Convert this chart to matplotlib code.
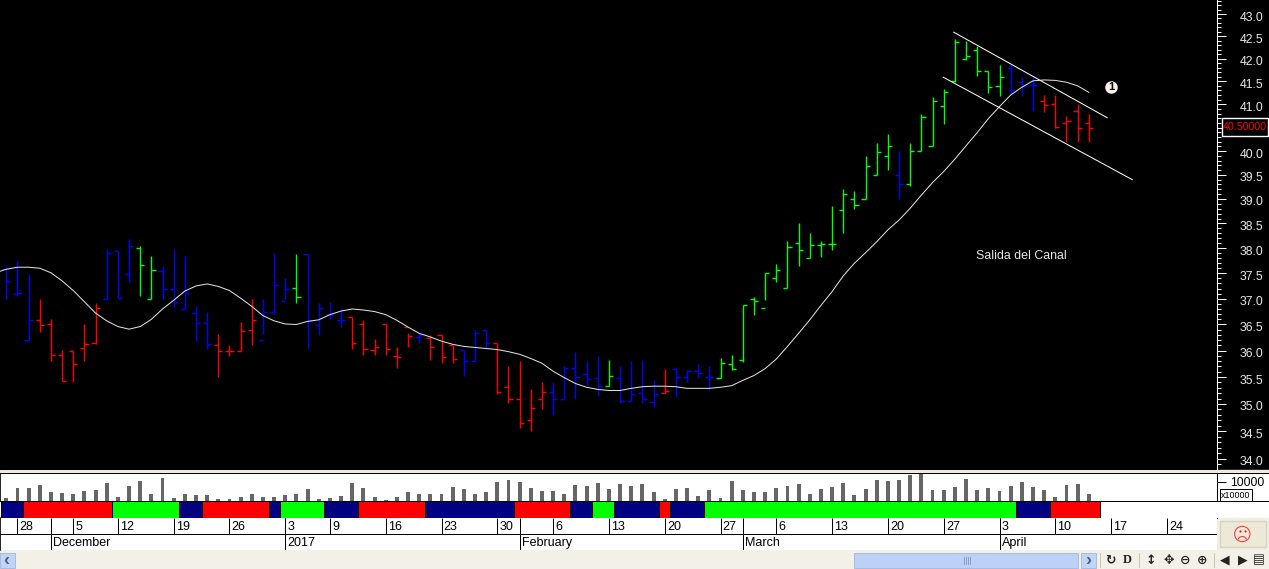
#!/usr/bin/env python3
import numpy as np
import matplotlib
matplotlib.use("Agg")
import matplotlib.pyplot as plt
from matplotlib.patches import Rectangle, Circle, Arc
from matplotlib.ticker import FixedLocator, FixedFormatter, NullFormatter
from matplotlib.transforms import ScaledTranslation

plt.rcParams['font.family'] = ['Liberation Sans', 'DejaVu Sans']

W, H = 1269, 569

# one letter per bar: b blue, r red, g green
bar_colors = list("bbb" "rrrrrr" "bbb" "gg" "bbbbb" "rrrr" "bbb" "g" "bbbb" "rrrrrr" "b" "rrr" "bbb" "rrrrr" "bbbbb"
                  "g" "bbbb" "r" "bbbb" "gggggggggggggggg" "b" "ggggggggg" "bbb" "rrrrr")
highs = [37.65,37.75,37.49,37.00,36.61,36.01,36.00,36.51,36.92,37.99,37.94,38.18,38.05,37.85,37.65,37.99,37.85,36.85,36.75,36.32,
         36.11,36.55,36.99,36.99,37.90,37.41,37.89,37.89,36.92,36.94,36.82,36.64,36.59,36.22,36.51,36.06,36.33,36.33,36.30,36.30,
         36.10,36.01,36.39,36.39,36.14,35.70,35.80,35.28,35.40,35.41,35.70,35.97,35.80,35.89,35.82,35.70,35.80,35.82,35.45,35.65,
         35.68,35.64,35.75,35.71,35.86,35.92,36.88,37.03,37.50,37.68,38.14,38.50,38.30,38.14,38.85,39.20,39.16,39.89,40.16,40.37,
         40.01,40.16,40.79,41.15,41.33,42.44,42.40,42.28,41.72,41.86,41.90,41.59,41.60,41.20,41.20,40.75,41.01,40.79]
lows = [37.00,37.05,36.20,36.36,35.80,35.42,35.41,35.81,36.13,36.99,37.01,37.32,37.06,36.99,37.00,36.81,36.79,36.19,36.03,35.51,
        35.90,36.00,36.11,36.32,36.71,36.99,36.91,36.03,36.30,36.60,36.46,36.03,35.91,35.92,35.91,35.68,36.06,36.14,35.83,35.76,
        35.77,35.53,35.80,36.04,35.19,35.01,34.55,34.51,34.91,34.80,35.10,35.09,35.35,35.14,35.33,35.01,35.05,35.01,34.94,35.20,
        35.12,35.40,35.49,35.25,35.49,35.64,35.78,36.69,36.97,37.32,37.21,37.65,37.80,37.83,37.97,38.31,38.80,38.99,39.50,39.61,
        39.01,39.26,40.00,40.11,40.58,41.49,41.96,41.62,41.25,41.18,41.20,41.17,40.86,40.84,40.50,40.19,40.19,40.19]
opens = [37.59,37.09,36.20,36.58,36.50,35.91,36.00,36.05,36.14,36.99,37.94,37.49,38.00,36.99,37.54,37.19,36.80,36.72,36.53,36.10,
         36.00,36.00,36.39,36.20,36.75,36.95,37.21,37.89,36.49,36.70,36.59,36.64,36.51,36.01,36.51,35.89,36.45,36.26,36.24,36.30,
         36.10,36.01,35.80,36.39,36.14,35.31,35.10,34.70,35.09,35.23,35.10,35.68,35.55,35.48,35.33,35.49,35.05,35.20,35.03,35.20,
         35.66,35.50,35.61,35.51,35.49,35.74,35.82,36.99,36.82,37.40,37.21,38.10,37.80,38.06,38.08,38.78,38.99,38.99,39.50,39.90,
         39.49,39.31,40.00,40.11,40.96,41.51,41.99,42.19,41.72,41.40,41.79,41.49,41.41,41.07,41.00,40.59,40.86,40.59]
closes = [37.34,37.11,36.58,36.49,35.91,35.43,35.74,36.12,36.82,37.90,37.01,38.04,37.67,37.56,37.19,36.94,37.11,36.53,36.13,36.00,
          36.00,36.38,36.58,36.75,37.27,37.19,37.03,36.56,36.82,36.68,36.58,36.14,36.03,36.06,36.03,35.88,36.28,36.30,36.06,35.87,
          35.84,35.80,36.33,36.14,35.23,35.10,34.65,34.92,35.23,35.10,35.68,35.51,35.46,35.33,35.53,35.05,35.18,35.10,35.18,35.24,
          35.50,35.61,35.58,35.50,35.76,35.66,36.88,36.95,37.50,37.56,38.03,37.96,38.06,38.08,38.08,39.10,38.87,39.68,39.97,40.11,
          39.31,40.01,40.73,41.06,41.27,42.37,42.05,41.72,41.37,41.59,41.30,41.40,41.41,40.99,40.52,40.63,40.50,40.48]
moving_avg = [37.58,37.62,37.62,37.60,37.51,37.35,37.16,36.94,36.72,36.57,36.46,36.41,36.46,36.60,36.80,36.97,37.15,37.25,37.29,37.24,
              37.16,37.01,36.85,36.67,36.57,36.51,36.50,36.56,36.59,36.69,36.76,36.80,36.78,36.75,36.69,36.58,36.45,36.33,36.26,36.18,
              36.12,36.08,36.06,36.04,36.02,35.98,35.93,35.85,35.76,35.61,35.49,35.38,35.31,35.27,35.25,35.25,35.29,35.32,35.33,35.33,
              35.32,35.29,35.29,35.29,35.31,35.34,35.44,35.53,35.66,35.84,36.08,36.33,36.59,36.87,37.14,37.45,37.70,37.91,38.13,38.37,
              38.57,38.81,39.08,39.34,39.57,39.83,40.11,40.39,40.69,40.95,41.20,41.37,41.51,41.53,41.52,41.48,41.40,41.26]
volumes = [1550,6550,6550,8280,4480,3970,3450,5000,5520,9140,1900,7590,10170,3450,11720,1380,3450,2930,2930,860,
           860,1900,3450,1900,1900,2930,3450,6030,860,1380,2410,9140,6550,1900,340,1900,4480,3450,3450,3450,
           7070,6030,3450,4480,9650,10690,9650,6550,5000,5000,3450,8100,7590,9140,6030,8620,7590,8620,4480,860,
           6030,6550,2410,5520,1380,10170,5520,4480,4480,6550,7590,8620,3450,6030,7070,9140,2930,6030,10690,10170,
           10690,13280,13960,5520,5520,7070,11210,5520,6550,5000,7590,9650,7070,5520,1900,8100,8620,3450]

# state strip under the volume: colour and number of bars of each run
strip_colors = ['#000080','#FF0000','#00FF00','#000080','#FF0000','#000080','#00FF00','#000080','#FF0000','#000080',
                '#FF0000','#000080','#00FF00','#000080','#FF0000','#000080','#00FF00','#000080','#FF0000']
strip_counts = [2,8,6,2,6,1,4,3,6,8,5,2,2,4,1,3,28,3,4.5]

date_labels = ['28','5','12','19','26','3','9','16','23','30','6','13','20','27','6','13','20','27','3','10','17','24']
date_pos = [1,6,10,15,20,25,29,34,39,44,49,54,59,64,69,74,79,84,89,94,99,104]
month_labels = ['December','2017','February','March','April']
month_pos = [4,25,46,66,89]

upper_x, upper_y = [84.9, 98.65], [42.59, 40.71]
lower_x, lower_y = [83.96, 100.9], [41.59, 39.40]

price_ticks = np.arange(34, 43.5, 0.5)
# the 40.5 label sits behind the last price box in the reference
price_labels = ['' if p == 40.5 else '%.1f' % p for p in price_ticks]
minor_ticks = np.arange(33.9, 43.35, 0.1)
last_price = "40.50000"

LW = 0.72
BAR_LW = 1.0


def rect(x0, y0, x1, y1):
    return [x0 / W, 1 - y1 / H, (x1 - x0) / W, (y1 - y0) / H]


fig = plt.figure(figsize=(W / 100, H / 100), dpi=100, facecolor='black')

# window furniture, in pixels
ax_bg = fig.add_axes([0, 0, 1, 1], zorder=0)
ax_bg.set_xlim(0, W)
ax_bg.set_ylim(H, 0)
ax_bg.axis('off')
ax_bg.add_patch(Rectangle((0, 470), W, 3, color='#ECE9D8'))
ax_bg.add_patch(Rectangle((0, 473), W, 45, color='white'))
ax_bg.add_patch(Rectangle((1217, 518), 52, 32, color='#F1EFE4'))
ax_bg.add_patch(Rectangle((0, 550), W, 19, color='#F3F1E7'))
ax_bg.plot([0, W], [473, 473], color='black', lw=LW)
ax_bg.plot([0, W], [501, 501], color='black', lw=LW)

xlim = (-0.565, 108.49)
bars = np.arange(len(highs))

# price panel
ax = fig.add_axes(rect(0, 0, 1217, 469.5), zorder=2, facecolor='black')
ax.set_yscale('log')
ax.set_xlim(*xlim)
ax.set_ylim(33.81, 43.32)
rgb = {'b': '#0000FF', 'r': '#FF0000', 'g': '#00FF00'}
for i in bars:
    col = rgb[bar_colors[i]]
    ax.plot([i, i], [lows[i], highs[i]], color=col, lw=BAR_LW, solid_capstyle='butt')
    ax.plot([i - 0.37, i], [opens[i], opens[i]], color=col, lw=BAR_LW, solid_capstyle='butt')
    ax.plot([i, i + 0.37], [closes[i], closes[i]], color=col, lw=BAR_LW, solid_capstyle='butt')
ax.plot(np.r_[-0.56, bars], [37.54] + moving_avg, color='#E4E4E4', lw=LW)
ax.plot(upper_x, upper_y, color='white', lw=LW)
ax.plot(lower_x, lower_y, color='white', lw=LW)
ax.plot([99], [41.37], 'o', ms=9, color='#FFF0E8', mew=0)
ax.text(99, 41.37, '1', color='black', fontsize=8, fontweight='bold', ha='center', va='center')
ax.text(91, 37.85, 'Salida del Canal', color='#E6E6E6', fontsize=8.9, ha='center', va='center')
for s in ['top', 'left', 'bottom']:
    ax.spines[s].set_visible(False)
ax.spines['right'].set_color('white')
ax.spines['right'].set_linewidth(LW)
ax.set_xticks([])
ax.yaxis.tick_right()
ax.yaxis.set_major_locator(FixedLocator(price_ticks))
ax.yaxis.set_major_formatter(FixedFormatter(price_labels))
ax.yaxis.set_minor_locator(FixedLocator(minor_ticks))
ax.yaxis.set_minor_formatter(NullFormatter())
ax.tick_params(axis='y', which='major', length=6.5, width=LW, color='white', labelcolor='#E8E8E8', labelsize=8.8, pad=10)
ax.tick_params(axis='y', which='minor', length=2.9, width=LW, color='white')
shift = ScaledTranslation(0, -2 / 100, fig.dpi_scale_trans)
for t in ax.yaxis.get_major_ticks():
    t.label2.set_transform(t.label2.get_transform() + shift)

# volume
ax_vol = fig.add_axes(rect(0, 473.5, 1217, 501), zorder=2, facecolor='white')
ax_vol.bar(bars, volumes, width=0.35, color='#666666')
ax_vol.set_xlim(*xlim)
ax_vol.set_ylim(0, 14249)
ax_vol.set_xticks([])
ax_vol.yaxis.tick_right()
ax_vol.set_yticks([10000])
ax_vol.set_yticklabels(['10000'])
ax_vol.tick_params(axis='y', length=6.5, width=LW, labelsize=8.8, pad=3)
for s in ['top', 'bottom']:
    ax_vol.spines[s].set_visible(False)
ax_vol.spines['left'].set_linewidth(1.2)
ax_vol.spines['right'].set_linewidth(LW)

# state strip
ax_strip = fig.add_axes(rect(0, 501, 1217, 518), zorder=2, facecolor='white')
starts = np.cumsum([0] + strip_counts[:-1]) - 0.5
ax_strip.barh(0.5, strip_counts, left=starts, height=1, color=strip_colors, edgecolor='black', lw=LW)
ax_strip.set_xlim(*xlim)
ax_strip.set_ylim(0, 1)
ax_strip.set_xticks([])
ax_strip.set_yticks([])
ax_strip.spines['right'].set_visible(False)
ax_strip.spines['left'].set_visible(False)
for s in ['top', 'bottom']:
    ax_strip.spines[s].set_linewidth(LW)

# date rows
ax_date = fig.add_axes(rect(0, 518, 1217, 550), zorder=2, facecolor='white')
ax_date.set_xlim(*xlim)
ax_date.set_ylim(2, 0)
ax_date.set_xticks([])
ax_date.set_yticks([])
ax_date.plot(xlim, [1, 1], color='black', lw=LW)
for p in date_pos:
    ax_date.plot([p, p], [0, 1], color='black', lw=LW, solid_capstyle='butt')
for p in month_pos:
    ax_date.plot([p, p], [0, 2], color='black', lw=LW, solid_capstyle='butt')
for p, s in zip(date_pos, date_labels):
    ax_date.text(p + 0.2, 0.56, s, fontsize=9, ha='left', va='center', color='black')
for p, s in zip(month_pos, month_labels):
    ax_date.text(p + 0.2, 1.56, s, fontsize=9, ha='left', va='center', color='black')
for s in ['top', 'right', 'bottom']:
    ax_date.spines[s].set_visible(False)
ax_date.spines['left'].set_linewidth(1.2)

# things that sit on top of the panels
ax_fg = fig.add_axes([0, 0, 1, 1], zorder=5)
ax_fg.patch.set_visible(False)
ax_fg.set_xlim(0, W)
ax_fg.set_ylim(H, 0)
ax_fg.axis('off')
ax_fg.add_patch(Rectangle((1221.5, 118), 46.5, 17.5, fc='black', ec='white', lw=1))
ax_fg.text(1245, 127, last_price, color='#FF0000', fontsize=7.7, ha='center', va='center')
ax_fg.add_patch(Rectangle((1219.5, 489), 32.5, 12, fc='white', ec='black', lw=LW))
ax_fg.text(1235.7, 495.3, 'x10000', color='black', fontsize=6.4, ha='center', va='center')

# sad face button
ax_fg.add_patch(Rectangle((1220, 521), 45.5, 26, fc='#ECE9D8', ec='#D8D4C0', lw=1))
ax_fg.add_patch(Circle((1242.3, 534), 7.7, fc='none', ec='#FF3030', lw=LW))
ax_fg.plot([1240, 1245], [531, 531], ls='none', marker='o', ms=1.5, color='#FF0000', mew=0)
ax_fg.add_patch(Arc((1242.3, 541), 9, 9, theta1=200, theta2=340, ec='#FF3030', lw=LW))

# scroll bar and toolbar
ax_fg.add_patch(Rectangle((0, 553), 15, 15, fc='#C3D5F7', ec='#9DB5E0', lw=0.6))
ax_fg.add_patch(Rectangle((854, 553), 224, 15, fc='#BDD0F5', ec='#9DB5E0', lw=0.6))
ax_fg.add_patch(Rectangle((1080.5, 553), 15.5, 15, fc='#C3D5F7', ec='#9DB5E0', lw=0.6))
ax_fg.text(6, 560, '‹', color='#4D6185', fontsize=13, fontweight='bold', ha='center', va='center')
ax_fg.text(1088.5, 560, '›', color='#4D6185', fontsize=13, fontweight='bold', ha='center', va='center')
for gx in [963.5, 965.5, 967.5, 969.5]:
    ax_fg.plot([gx, gx], [557, 564], color='#7E97C8', lw=0.6)
for sx in [1100, 1139.3, 1214]:
    ax_fg.plot([sx, sx], [553, 567], color='#C9C5B2', lw=LW)
icons = ['↻', 'D', '↕', '✥', '⊖', '⊕', '◀', '▶', '▤']
icon_x = [1110.7, 1127.7, 1151, 1168.3, 1185.3, 1202.3, 1224.7, 1242.3, 1258.7]
for x, s in zip(icon_x, icons):
    fam = 'Liberation Serif' if s == 'D' else 'DejaVu Sans'
    ax_fg.text(x, 560, s, family=fam, color='#222222', fontsize=9, fontweight='bold', ha='center', va='center')

fig.savefig('out.png', dpi=100, facecolor='black')
